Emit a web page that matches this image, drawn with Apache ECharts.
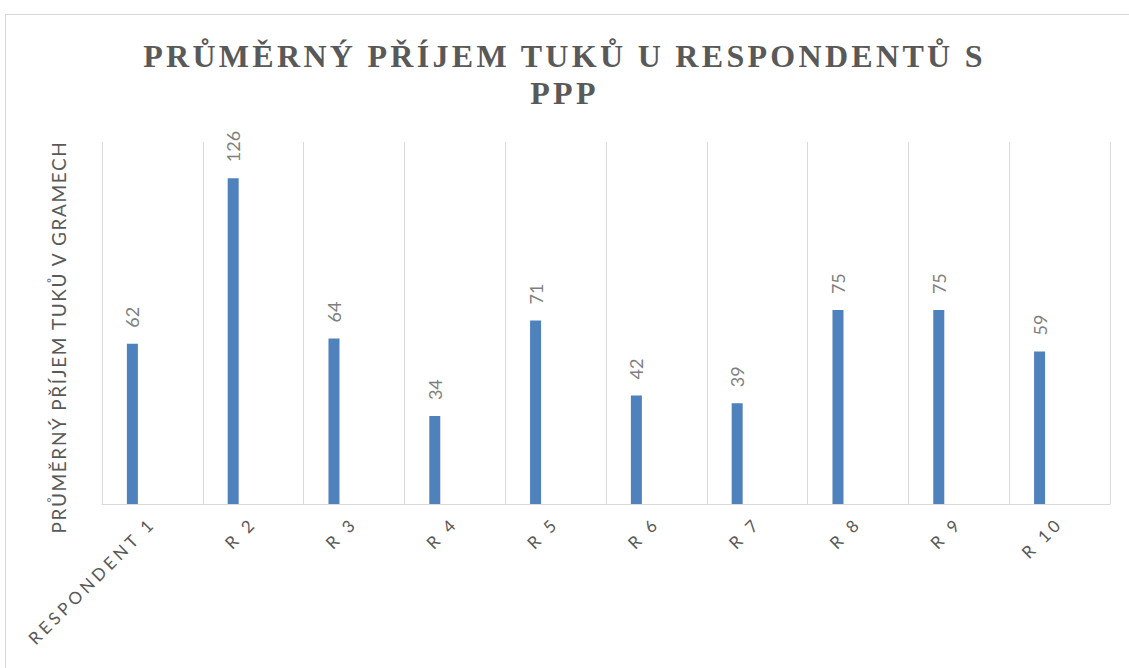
<!DOCTYPE html>
<html>
<head>
<meta charset="utf-8">
<script src="https://cdn.jsdelivr.net/npm/echarts@6/dist/echarts.min.js"></script>
<style>
  body { margin: 0; background: #fff; }
  #frame { position: absolute; left: 5px; top: 14px; width: 1140px; height: 680px;
           border-left: 1px solid #d9d9d9; border-top: 1px solid #d9d9d9; }
  #chart { position: absolute; left: 0; top: 0; width: 1129px; height: 668px; }
  /* letter spacing like the original (svg renderer) */
  #chart text[style*="Liberation"] { letter-spacing: 3.3px; }
  #chart text[style*="17px"] { letter-spacing: 3.8px; }
  #chart text[style*="19px"] { letter-spacing: 1.6px; }
</style>
</head>
<body>
<div id="frame"></div>
<div id="chart"></div>
<script>
  // data
  const categories = ['RESPONDENT 1', 'R 2', 'R 3', 'R 4', 'R 5', 'R 6', 'R 7', 'R 8', 'R 9', 'R 10'];
  const fatIntake = [62, 126, 64, 34, 71, 42, 39, 75, 75, 59];
  const emptySeries = [null, null, null, null, null, null, null, null, null, null];

  const chart = echarts.init(document.getElementById('chart'), null, { renderer: 'svg' });

  const option = {
    animation: false,
    title: {
      text: 'PRŮMĚRNÝ PŘÍJEM TUKŮ U RESPONDENTŮ S\nPPP',
      left: 'center',
      top: 32,
      textStyle: {
        fontFamily: 'Liberation Serif',
        fontWeight: 'bold',
        fontSize: 32,
        lineHeight: 37,
        color: '#595959',
      },
    },
    grid: {
      left: 102,
      right: 19,
      top: 142,
      bottom: 164,
    },
    xAxis: {
      type: 'category',
      data: categories,
      boundaryGap: true,
      axisTick: { show: false },
      axisLine: { lineStyle: { color: '#d9d9d9', width: 1 } },
      splitLine: { show: true, lineStyle: { color: '#d9d9d9', width: 1 } },
      axisLabel: {
        rotate: 45,
        margin: 16,
        color: '#595959',
        fontFamily: 'Lato',
        fontSize: 17,
      },
    },
    yAxis: {
      type: 'value',
      min: 0,
      max: 140,
      axisLine: { show: false },
      axisTick: { show: false },
      axisLabel: { show: false },
      splitLine: { show: false },
      name: 'PRŮMĚRNÝ PŘÍJEM TUKŮ V GRAMECH',
      nameLocation: 'middle',
      nameRotate: 90,
      nameGap: 34,
      nameTextStyle: {
        color: '#595959',
        fontFamily: 'Lato',
        fontSize: 19,
        padding: [0, 28, 0, 0],
      },
    },
    series: [
      {
        type: 'bar',
        data: fatIntake,
        barWidth: 11,
        barGap: '264%',
        itemStyle: { color: '#4f81bd' },
        label: {
          show: true,
          position: 'top',
          rotate: 90,
          align: 'left',
          verticalAlign: 'middle',
          distance: 16,
          color: '#7f7f7f',
          fontFamily: 'Lato',
          fontSize: 18,
        },
      },
      {
        type: 'bar',
        data: emptySeries,
        barWidth: 11,
        itemStyle: { color: '#c0504d' },
      },
    ],
  };

  chart.setOption(option);
</script>
</body>
</html>
